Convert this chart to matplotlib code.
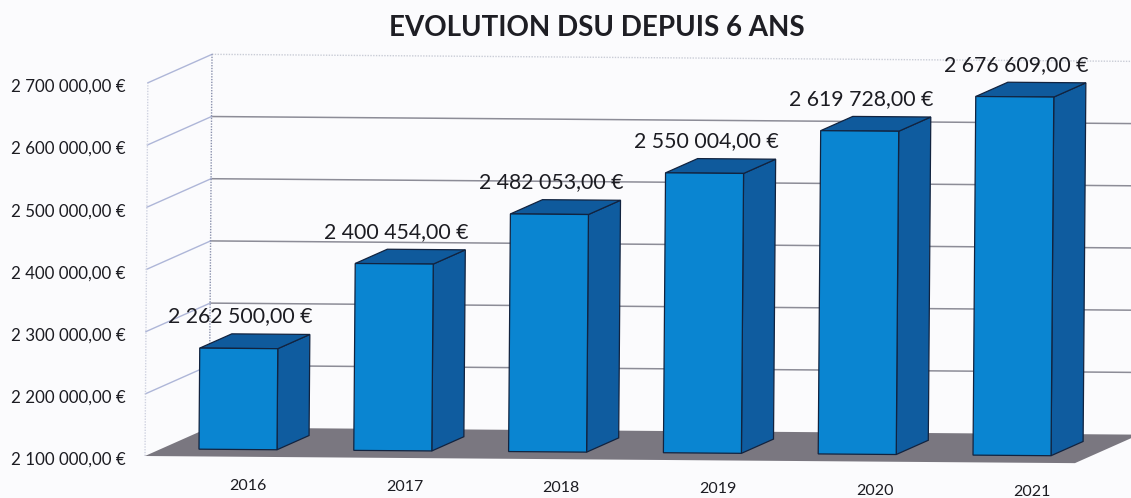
import matplotlib
matplotlib.use("Agg")
import matplotlib.pyplot as plt
from matplotlib.transforms import Affine2D

years = ["2016", "2017", "2018", "2019", "2020", "2021"]
dsu = [2262500, 2400454, 2482053, 2550004, 2619728, 2676609]
dsu_labels = ["2 262 500,00 €", "2 400 454,00 €", "2 482 053,00 €",
              "2 550 004,00 €", "2 619 728,00 €", "2 676 609,00 €"]
ticks = [2100000, 2200000, 2300000, 2400000, 2500000, 2600000, 2700000]
tick_labels = ["2 100 000,00 €", "2 200 000,00 €", "2 300 000,00 €", "2 400 000,00 €",
               "2 500 000,00 €", "2 600 000,00 €", "2 700 000,00 €"]
title = "EVOLUTION DSU DEPUIS 6 ANS"

plt.rcParams["font.family"] = ["Lato", "DejaVu Sans"]

W, H = 1131, 498
fig = plt.figure(figsize=(W / 100, H / 100), dpi=100, facecolor="#fbfbfd")
# axes sit 2.5px low so the tick labels land right, the marks are moved back up below
ax = fig.add_axes([145 / W, 39.5 / H, (W - 145) / W, 373.2 / H])
ax.set_facecolor("none")

# front plane of the fake 3d box, in category and euro units
x_left = -0.497
x_right = 5.51
base = ticks[0]
top = ticks[-1]
ax.set_xlim(x_left, 5.872)
ax.set_ylim(base, top)

# depth of the box, as a shift in data units
depth_x = 0.413
depth_y = 46600
bar_w = 0.504

# the page was scanned slightly crooked
tilt = Affine2D().translate(0, 2.5).rotate_deg_around(145, 42, -0.44)
tr = ax.transData + tilt


def shift(x, v, d):
    return x + d * depth_x, v + d * depth_y


# floor
fx, fy = [], []
for x, d in [(x_left, 0), (x_right, 0), (x_right, 1), (x_left, 1)]:
    a, b = shift(x, base, d)
    fx.append(a)
    fy.append(b)
ax.fill(fx, fy, color="#7a7780", lw=0, transform=tr, clip_on=False, zorder=2)

# walls and gridlines
for v in ticks[1:]:
    a, b = shift(x_left, v, 1)
    c, e = shift(x_right, v, 1)
    if v == top:
        ax.plot([a, c], [b, e], color="#c9ccd6", lw=1, ls=(0, (1, 1)), transform=tr, clip_on=False, zorder=1)
    else:
        ax.plot([a, c], [b, e], color="#8c8c97", lw=1.1, transform=tr, clip_on=False, zorder=1)
for v in ticks[1:]:
    a, b = shift(x_left, v, 1)
    ax.plot([x_left, a], [v, b], color="#aeb6d8", lw=1, transform=tr, clip_on=False, zorder=1)
ax.plot([x_left, x_left], [base, top], color="#cfd2e0", lw=1, ls=(0, (1, 1)), transform=tr, clip_on=False, zorder=1)
a, b = shift(x_left, base, 1)
c, e = shift(x_left, top, 1)
ax.plot([a, c], [b, e], color="#8a91ad", lw=1, ls=(0, (1, 1)), transform=tr, clip_on=False, zorder=1)

# bars: front face with ax.bar, side and top built from the value
for i, v in enumerate(dsu):
    x0, y0 = shift(i - bar_w / 2, base, 0.25)
    x1 = x0 + bar_w
    y1 = y0 + v - base
    dx = 0.5 * depth_x
    dy = 0.5 * depth_y
    ax.fill([x1, x1 + dx, x1 + dx, x1], [y0, y0 + dy, y1 + dy, y1], facecolor="#0f5c9f", edgecolor="#12233f",
            lw=0.9, transform=tr, clip_on=False, zorder=3)
    ax.fill([x0, x1, x1 + dx, x0 + dx], [y1, y1, y1 + dy, y1 + dy], facecolor="#0f5a9c", edgecolor="#12233f",
            lw=0.9, transform=tr, clip_on=False, zorder=3)
    ax.bar(x0, v - base, width=bar_w, bottom=y0, align="edge", color="#0a85d1", edgecolor="#12233f",
           lw=0.9, transform=tr, clip_on=False, zorder=4)
    ax.text(x0 + bar_w / 2 + 0.01, y1 + 51500, dsu_labels[i], ha="center", va="center", fontsize=15.3,
            color="#1c1c22", transform=tr, zorder=5)
    # year labels sit a bit wider apart than the bars
    ax.text(i * 1.013 + 0.167, base - 46500, years[i], ha="center", va="center", fontsize=11.5,
            color="#1c1c22", transform=tr, zorder=5)

ax.set_xticks([])
ax.set_yticks(ticks)
ax.set_yticklabels(tick_labels, fontsize=12.2, color="#1c1c22")
ax.tick_params(axis="y", length=0, pad=14)
for s in ax.spines.values():
    s.set_visible(False)

fig.text(597 / W, 1 - 28.5 / H, title, ha="center", va="center", fontsize=20, fontweight="bold", color="#1e1e24")

fig.savefig("out.png", dpi=100, facecolor=fig.get_facecolor())
